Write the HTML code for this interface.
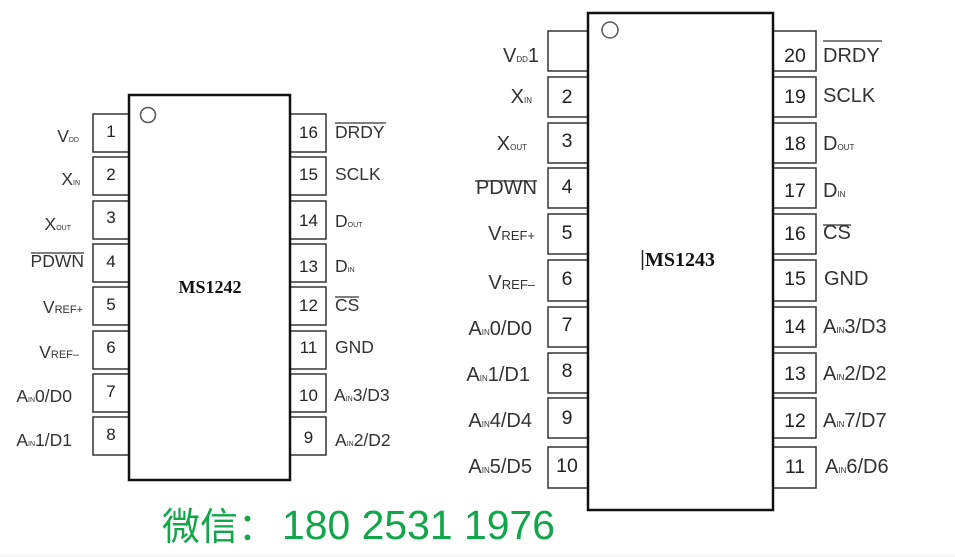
<!DOCTYPE html>
<html><head><meta charset="utf-8"><style>
html,body{margin:0;padding:0;background:#fff;}
svg{display:block;}
text{font-family:"Liberation Sans",Arial,sans-serif;fill:#333;}
.n{font-size:17px;fill:#222;text-anchor:middle;}
.l{font-size:17.5px;}
.N{font-size:19.5px;fill:#222;text-anchor:middle;}
.L{font-size:20px;}
.e{text-anchor:end;}
.s7{font-size:7px;}
.s8{font-size:8px;}
.r11{font-size:11px;}
.r13{font-size:13px;}
.pb{fill:#fff;stroke:#333;stroke-width:1.5;}
.body{fill:#fff;stroke:#111;stroke-width:2.5;}
.ov{stroke:#333;stroke-width:1.3;}
</style></head><body>
<svg width="955" height="557" viewBox="0 0 955 557" xmlns="http://www.w3.org/2000/svg">
<rect x="0" y="0" width="955" height="557" fill="#fff"/>

<!-- ===== MS1242 ===== -->
<g>
<rect class="pb" x="93" y="114" width="36" height="38"/>
<rect class="pb" x="93" y="157" width="36" height="38"/>
<rect class="pb" x="93" y="201" width="36" height="38"/>
<rect class="pb" x="93" y="244" width="36" height="38"/>
<rect class="pb" x="93" y="287" width="36" height="38"/>
<rect class="pb" x="93" y="331" width="36" height="38"/>
<rect class="pb" x="93" y="374" width="36" height="38"/>
<rect class="pb" x="93" y="417" width="36" height="38"/>
<rect class="pb" x="290" y="114" width="36" height="38"/>
<rect class="pb" x="290" y="157" width="36" height="38"/>
<rect class="pb" x="290" y="201" width="36" height="38"/>
<rect class="pb" x="290" y="244" width="36" height="38"/>
<rect class="pb" x="290" y="287" width="36" height="38"/>
<rect class="pb" x="290" y="331" width="36" height="38"/>
<rect class="pb" x="290" y="374" width="36" height="38"/>
<rect class="pb" x="290" y="417" width="36" height="38"/>
<rect class="body" x="129" y="95" width="161" height="385"/>
<circle cx="148" cy="115" r="7.5" fill="none" stroke="#555" stroke-width="1.5"/>
<text x="210" y="293" font-family="Liberation Serif" font-weight="bold" font-size="18" text-anchor="middle" style="font-family:'Liberation Serif',serif;fill:#111">MS1242</text>

<text class="n" x="111" y="137">1</text>
<text class="n" x="111" y="180">2</text>
<text class="n" x="111" y="223">3</text>
<text class="n" x="111" y="267">4</text>
<text class="n" x="111" y="310">5</text>
<text class="n" x="111" y="353">6</text>
<text class="n" x="111" y="397">7</text>
<text class="n" x="111" y="440">8</text>
<text class="n" x="308.5" y="138">16</text>
<text class="n" x="308.5" y="180">15</text>
<text class="n" x="308.5" y="226">14</text>
<text class="n" x="308.5" y="272">13</text>
<text class="n" x="308.5" y="311">12</text>
<text class="n" x="308.5" y="353">11</text>
<text class="n" x="308.5" y="401">10</text>
<text class="n" x="308.5" y="443">9</text>

<text class="l e" x="79" y="142">V<tspan class="s7">DD</tspan></text>
<text class="l e" x="80" y="185">X<tspan class="s7">IN</tspan></text>
<text class="l e" x="71" y="230">X<tspan class="s7">OUT</tspan></text>
<text class="l e" x="84" y="267">PDWN</text>
<line class="ov" x1="31" y1="253" x2="84" y2="253"/>
<text class="l e" x="83" y="313">V<tspan class="r11">REF+</tspan></text>
<text class="l e" x="79" y="358">V<tspan class="r11">REF–</tspan></text>
<text class="l e" x="72" y="402">A<tspan class="s7">IN</tspan>0/D0</text>
<text class="l e" x="72" y="446">A<tspan class="s7">IN</tspan>1/D1</text>

<text class="l" x="335" y="138">DRDY</text>
<line class="ov" x1="335" y1="123" x2="386" y2="123"/>
<text class="l" x="335" y="180">SCLK</text>
<text class="l" x="335" y="227">D<tspan class="s7">OUT</tspan></text>
<text class="l" x="335" y="272">D<tspan class="s7">IN</tspan></text>
<text class="l" x="335" y="311">CS</text>
<line class="ov" x1="335" y1="297" x2="359" y2="297"/>
<text class="l" x="335" y="353">GND</text>
<text class="l" x="334" y="401">A<tspan class="s7">IN</tspan>3/D3</text>
<text class="l" x="335" y="446">A<tspan class="s7">IN</tspan>2/D2</text>
</g>

<!-- ===== MS1243 ===== -->
<g>
<rect class="pb" x="548" y="31" width="40" height="40"/>
<rect class="pb" x="548" y="77" width="40" height="40"/>
<rect class="pb" x="548" y="123" width="40" height="40"/>
<rect class="pb" x="548" y="168" width="40" height="40"/>
<rect class="pb" x="548" y="214" width="40" height="40"/>
<rect class="pb" x="548" y="260" width="40" height="41"/>
<rect class="pb" x="548" y="307" width="40" height="40"/>
<rect class="pb" x="548" y="353" width="40" height="40"/>
<rect class="pb" x="548" y="398" width="40" height="40"/>
<rect class="pb" x="548" y="447" width="40" height="41"/>
<rect class="pb" x="773" y="31" width="43" height="40"/>
<rect class="pb" x="773" y="77" width="43" height="40"/>
<rect class="pb" x="773" y="123" width="43" height="40"/>
<rect class="pb" x="773" y="168" width="43" height="40"/>
<rect class="pb" x="773" y="214" width="43" height="40"/>
<rect class="pb" x="773" y="260" width="43" height="41"/>
<rect class="pb" x="773" y="307" width="43" height="40"/>
<rect class="pb" x="773" y="353" width="43" height="40"/>
<rect class="pb" x="773" y="398" width="43" height="40"/>
<rect class="pb" x="773" y="447" width="43" height="41"/>
<rect class="body" x="588" y="13" width="185" height="497"/>
<circle cx="610" cy="30" r="8" fill="none" stroke="#555" stroke-width="1.5"/>
<line x1="642.5" y1="250" x2="642.5" y2="270" stroke="#222" stroke-width="1.5"/>
<text x="680" y="266" font-weight="bold" font-size="20" text-anchor="middle" style="font-family:'Liberation Serif',serif;fill:#111">MS1243</text>

<text class="N" x="567" y="103">2</text>
<text class="N" x="567" y="147">3</text>
<text class="N" x="567" y="193">4</text>
<text class="N" x="567" y="239">5</text>
<text class="N" x="567" y="285">6</text>
<text class="N" x="567" y="331">7</text>
<text class="N" x="567" y="377">8</text>
<text class="N" x="567" y="424">9</text>
<text class="N" x="567" y="472">10</text>
<text class="N" x="795" y="62">20</text>
<text class="N" x="795" y="103">19</text>
<text class="N" x="795" y="150">18</text>
<text class="N" x="795" y="197">17</text>
<text class="N" x="795" y="240">16</text>
<text class="N" x="795" y="285">15</text>
<text class="N" x="795" y="333">14</text>
<text class="N" x="795" y="380">13</text>
<text class="N" x="795" y="427">12</text>
<text class="N" x="795" y="473">11</text>

<text class="L e" x="539" y="62">V<tspan class="s8">DD</tspan>1</text>
<text class="L e" x="532" y="103">X<tspan class="s8">IN</tspan></text>
<text class="L e" x="527" y="150">X<tspan class="s8">OUT</tspan></text>
<text class="L e" x="537" y="194">PDWN</text>
<line class="ov" x1="475" y1="181" x2="537" y2="181"/>
<text class="L e" x="535" y="240">V<tspan class="r13">REF+</tspan></text>
<text class="L e" x="535" y="289">V<tspan class="r13">REF–</tspan></text>
<text class="L e" x="532" y="335">A<tspan class="s8">IN</tspan>0/D0</text>
<text class="L e" x="530" y="381">A<tspan class="s8">IN</tspan>1/D1</text>
<text class="L e" x="532" y="427">A<tspan class="s8">IN</tspan>4/D4</text>
<text class="L e" x="532" y="473">A<tspan class="s8">IN</tspan>5/D5</text>

<text class="L" x="823" y="62">DRDY</text>
<line class="ov" x1="823" y1="41" x2="882" y2="41"/>
<text class="L" x="823" y="102">SCLK</text>
<text class="L" x="823" y="150">D<tspan class="s8">OUT</tspan></text>
<text class="L" x="823" y="197">D<tspan class="s8">IN</tspan></text>
<text class="L" x="823" y="239">CS</text>
<line class="ov" x1="823" y1="225" x2="851" y2="225"/>
<text class="L" x="824" y="285">GND</text>
<text class="L" x="823" y="333">A<tspan class="s8">IN</tspan>3/D3</text>
<text class="L" x="823" y="380">A<tspan class="s8">IN</tspan>2/D2</text>
<text class="L" x="823" y="427">A<tspan class="s8">IN</tspan>7/D7</text>
<text class="L" x="825" y="473">A<tspan class="s8">IN</tspan>6/D6</text>
</g>

<!-- green contact line -->
<text x="162" y="540" font-size="38" style="font-family:'Liberation Sans','Noto Sans CJK SC',sans-serif;fill:#12a64b">微信：</text>
<text x="282" y="539" font-size="41" textLength="273" lengthAdjust="spacingAndGlyphs" style="font-family:'Liberation Sans',sans-serif;fill:#12a64b">180 2531 1976</text>
<line x1="0" y1="556" x2="955" y2="556" stroke="#ececec" stroke-width="1"/>
</svg>
</body></html>
